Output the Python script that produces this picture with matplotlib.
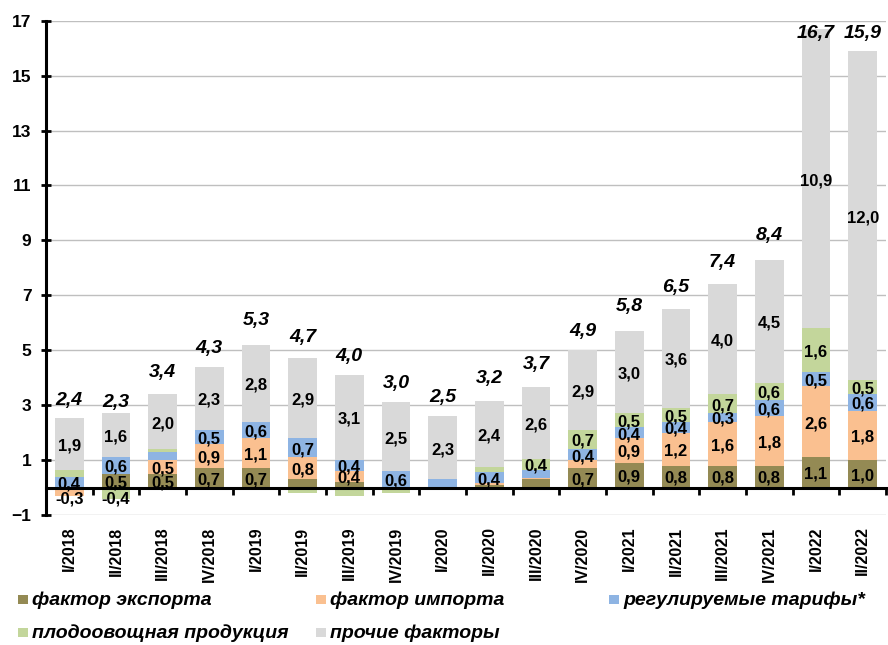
import matplotlib
matplotlib.use("Agg")
import matplotlib.pyplot as plt
from matplotlib.patches import Rectangle
import numpy as np

plt.rcParams['font.family'] = ['Liberation Sans', 'DejaVu Sans']

quarters = ["I/2018", "II/2018", "III/2018", "IV/2018",
            "I/2019", "II/2019", "III/2019", "IV/2019",
            "I/2020", "II/2020", "III/2020", "IV/2020",
            "I/2021", "II/2021", "III/2021", "IV/2021",
            "I/2022", "II/2022"]

export_factor = [0.0, 0.5, 0.5, 0.7, 0.7, 0.3, 0.2, 0.0, 0.0, 0.1, 0.3, 0.7, 0.9, 0.8, 0.8, 0.8, 1.1, 1.0]
import_factor = [-0.3, 0.0, 0.5, 0.9, 1.1, 0.8, 0.4, 0.0, 0.0, 0.05, 0.05, 0.3, 0.9, 1.2, 1.6, 1.8, 2.6, 1.8]
tariffs = [0.4, 0.6, 0.3, 0.5, 0.6, 0.7, 0.4, 0.6, 0.3, 0.4, 0.3, 0.4, 0.4, 0.4, 0.3, 0.6, 0.5, 0.6]
fruit_veg = [0.25, -0.4, 0.1, -0.1, 0.0, -0.2, -0.3, -0.2, -0.1, 0.2, 0.4, 0.7, 0.5, 0.5, 0.7, 0.6, 1.6, 0.5]
other = [1.9, 1.6, 2.0, 2.3, 2.8, 2.9, 3.1, 2.5, 2.3, 2.4, 2.6, 2.9, 3.0, 3.6, 4.0, 4.5, 10.9, 12.0]
totals = [2.4, 2.3, 3.4, 4.3, 5.3, 4.7, 4.0, 3.0, 2.5, 3.2, 3.7, 4.9, 5.8, 6.5, 7.4, 8.4, 16.7, 15.9]

series_names = ["фактор экспорта", "фактор импорта", "регулируемые тарифы*",
                "плодоовощная продукция", "прочие факторы"]
series_values = [export_factor, import_factor, tariffs, fruit_veg, other]
series_colors = ["#948A54", "#FAC090", "#8EB4E3", "#C3D69B", "#D9D9D9"]

# segments that carry a value label: |v| >= 0.4 plus these extra ones
extra_labels = {(1, 0), (2, 14)}

W, H = 888, 645
fig = plt.figure(figsize=(W / 100, H / 100), dpi=100)
ax_left, ax_right, ax_top, ax_bottom = 46, 886, 20.7, 515
ax = fig.add_axes([ax_left / W, 1 - ax_bottom / H,
                   (ax_right - ax_left) / W, (ax_bottom - ax_top) / H])

x = np.arange(len(quarters))
bar_w = 0.62
pos_base = np.zeros(len(quarters))
neg_base = np.zeros(len(quarters))

for si, (vals, col) in enumerate(zip(series_values, series_colors)):
    vals = np.array(vals, dtype=float)
    bottoms = np.where(vals >= 0, pos_base, neg_base)
    ax.bar(x, vals, bar_w, bottom=bottoms, color=col, zorder=2, linewidth=0)
    for i, v in enumerate(vals):
        if abs(v) >= 0.4 - 1e-9 or (si, i) in extra_labels:
            if v >= 0:
                yl = bottoms[i] + v / 2 - 0.07
            else:
                yl = min(bottoms[i] + v / 2 - 0.07, -0.43)
            ax.text(x[i], yl, f"{v:.1f}".replace(".", ","), ha="center", va="center",
                    fontsize=12, fontweight="bold", color="black", zorder=4)
    pos_base = pos_base + np.where(vals >= 0, vals, 0)
    neg_base = neg_base + np.where(vals < 0, vals, 0)

for i, t in enumerate(totals):
    ax.text(x[i], min(t + 0.78, 16.55), f"{t:.1f}".replace(".", ","), ha="center",
            va="center", fontsize=14, fontweight="bold", fontstyle="italic", zorder=5)

ax.set_xlim(-0.5, len(quarters) - 0.5)
ax.set_ylim(-1, 17)
ax.set_yticks(np.arange(-1, 18, 2))
ax.yaxis.grid(True, color="#BFBFBF", linewidth=1.0)
ax.set_axisbelow(True)

for s in ["top", "right"]:
    ax.spines[s].set_visible(False)
ax.spines["left"].set_linewidth(2.2)
ax.spines["bottom"].set_position(("data", 0))
ax.spines["bottom"].set_linewidth(2.2)
ax.spines["bottom"].set_zorder(3)

ax.tick_params(axis="y", direction="inout", length=7, width=2, pad=7,
               labelsize=12.5)
for lab in ax.get_yticklabels():
    lab.set_fontweight("bold")

ax.set_xticks(x)
ax.set_xticklabels(quarters, rotation=90, fontsize=11.5, fontweight="bold")
ax.tick_params(axis="x", which="major", length=0, pad=28)
ax.set_xticks(np.arange(-0.5, len(quarters), 1.0), minor=True)
ax.tick_params(axis="x", which="minor", direction="out", length=5, width=2)

# legend drawn in figure pixels: (text left, row centre)
legend_items = [(32, 600), (330, 600), (623, 600), (32, 633), (330, 633)]
for (px, py), name, col in zip(legend_items, series_names, series_colors):
    fig.patches.append(Rectangle(((px - 14) / W, 1 - (py + 4) / H), 10 / W, 9 / H,
                                 transform=fig.transFigure, facecolor=col,
                                 edgecolor="none"))
    fig.text(px / W, 1 - py / H, name, ha="left", va="center",
             fontsize=14, fontweight="bold", fontstyle="italic")

fig.savefig("out.png", dpi=100)
